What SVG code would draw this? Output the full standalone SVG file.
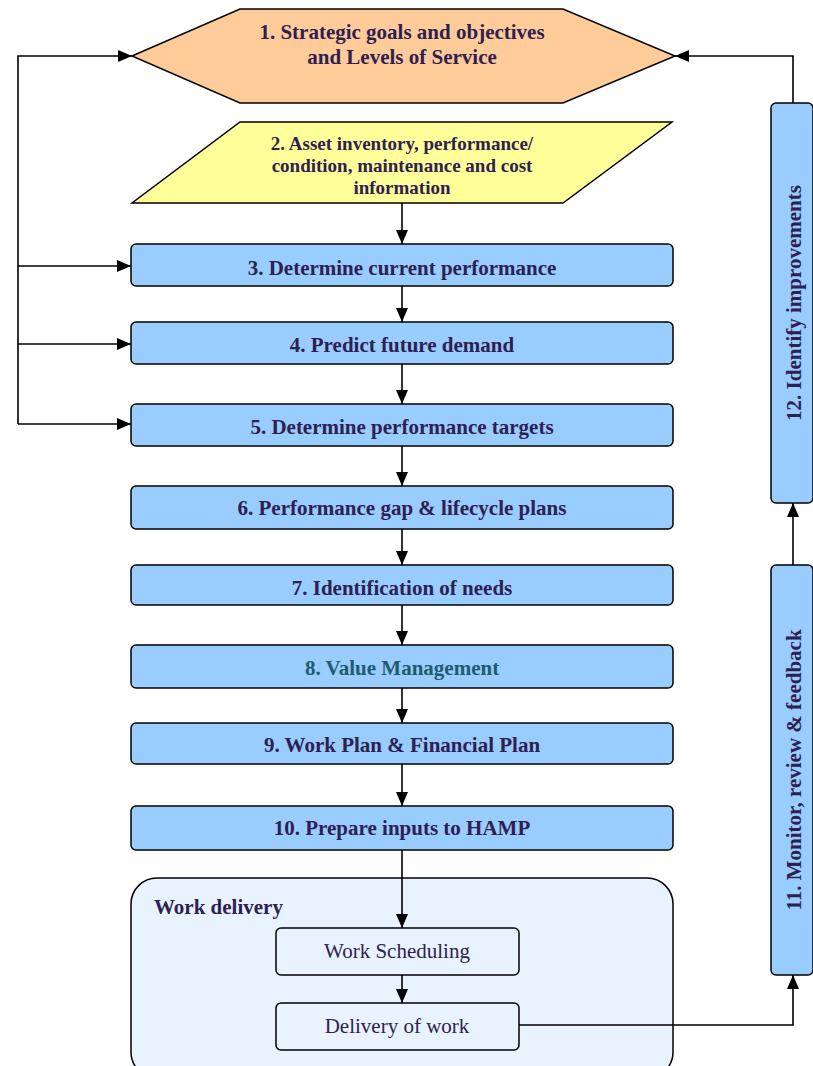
<svg xmlns="http://www.w3.org/2000/svg" width="813" height="1066" viewBox="0 0 813 1066">
<defs>
<marker id="ah" markerWidth="14" markerHeight="12" refX="14" refY="6" orient="auto" markerUnits="userSpaceOnUse">
<path d="M0,0 L14,6 L0,12 Z" fill="#000"/>
</marker>
<style>
.box{fill:#99CCFF;stroke:#000;stroke-width:1.5}
.t{font-family:"Liberation Serif",serif;font-weight:bold;font-size:21px;fill:#2E2152;text-anchor:middle}
.t2{font-family:"Liberation Serif",serif;font-weight:bold;font-size:19px;fill:#2E2152;text-anchor:middle}
.n{font-family:"Liberation Serif",serif;font-size:21px;fill:#2E2152;text-anchor:middle}
.c{fill:none;stroke:#000;stroke-width:1.6}
</style>
</defs>
<rect width="813" height="1066" fill="#fff"/>
<g id="n1">
<polygon points="132,56 240,9 563,9 675,56 563,103 240,103" fill="#FFCC99" stroke="#000" stroke-width="1.5"/>
<text class="t" x="402" y="39">1. Strategic goals and objectives</text>
<text class="t" x="402" y="64">and Levels of Service</text>
</g>
<g id="n2">
<polygon points="240,122 672,122 563,203 132,203" fill="#FFFF99" stroke="#000" stroke-width="1.5"/>
<text class="t2" x="402" y="150">2. Asset inventory, performance/</text>
<text class="t2" x="402" y="172">condition, maintenance and cost</text>
<text class="t2" x="402" y="194">information</text>
</g>
<g id="n3"><rect class="box" x="131" y="244" width="542" height="42" rx="5"/><text class="t" x="402" y="275">3. Determine current performance</text></g>
<g id="n4"><rect class="box" x="131" y="322" width="542" height="42" rx="5"/><text class="t" x="402" y="352">4. Predict future demand</text></g>
<g id="n5"><rect class="box" x="131" y="404" width="542" height="42" rx="5"/><text class="t" x="402" y="434">5. Determine performance targets</text></g>
<g id="n6"><rect class="box" x="131" y="486" width="542" height="43" rx="5"/><text class="t" x="402" y="515">6. Performance gap &amp; lifecycle plans</text></g>
<g id="n7"><rect class="box" x="131" y="565" width="542" height="40" rx="5"/><text class="t" x="402" y="595">7. Identification of needs</text></g>
<g id="n8"><rect class="box" x="131" y="645" width="542" height="43" rx="5"/><text class="t" x="402" y="675" style="fill:#1F5C6E">8. Value Management</text></g>
<g id="n9"><rect class="box" x="131" y="723" width="542" height="41" rx="5"/><text class="t" x="402" y="752">9. Work Plan &amp; Financial Plan</text></g>
<g id="n10"><rect class="box" x="131" y="806" width="542" height="44" rx="5"/><text class="t" x="402" y="835">10. Prepare inputs to HAMP</text></g>
<g id="wd">
<rect x="131" y="878" width="542" height="200" rx="26" fill="#E8F3FF" stroke="#000" stroke-width="1.5"/>
<text class="t" x="154" y="914" style="text-anchor:start">Work delivery</text>
</g>
<g id="ws"><rect x="276" y="928" width="243" height="47" rx="5" fill="#E8F3FF" stroke="#000" stroke-width="1.5"/><text class="n" x="397" y="958">Work Scheduling</text></g>
<g id="dw"><rect x="276" y="1003" width="243" height="47" rx="5" fill="#E8F3FF" stroke="#000" stroke-width="1.5"/><text class="n" x="397" y="1033">Delivery of work</text></g>
<g id="n11"><rect class="box" x="771" y="565" width="42" height="410" rx="5"/><text class="t" transform="translate(801,770) rotate(-90)">11. Monitor, review &amp; feedback</text></g>
<g id="n12"><rect class="box" x="771" y="103" width="42" height="400" rx="5"/><text class="t" transform="translate(801,303) rotate(-90)">12. Identify improvements</text></g>
<g id="connectors">
<path class="c" d="M402,203 V244" marker-end="url(#ah)"/>
<path class="c" d="M402,286 V322" marker-end="url(#ah)"/>
<path class="c" d="M402,364 V404" marker-end="url(#ah)"/>
<path class="c" d="M402,446 V486" marker-end="url(#ah)"/>
<path class="c" d="M402,529 V565" marker-end="url(#ah)"/>
<path class="c" d="M402,605 V645" marker-end="url(#ah)"/>
<path class="c" d="M402,688 V723" marker-end="url(#ah)"/>
<path class="c" d="M402,764 V806" marker-end="url(#ah)"/>
<path class="c" d="M402,850 V928" marker-end="url(#ah)"/>
<path class="c" d="M402,975 V1003" marker-end="url(#ah)"/>
<path class="c" d="M519,1025 H793 V975" marker-end="url(#ah)"/>
<path class="c" d="M793,565 V503" marker-end="url(#ah)"/>
<path class="c" d="M793,103 V56 H675" marker-end="url(#ah)"/>
<path class="c" d="M18,424 V56 H132" marker-end="url(#ah)"/>
<path class="c" d="M18,266 H131" marker-end="url(#ah)"/>
<path class="c" d="M18,344 H131" marker-end="url(#ah)"/>
<path class="c" d="M18,424 H131" marker-end="url(#ah)"/>
</g>
</svg>
